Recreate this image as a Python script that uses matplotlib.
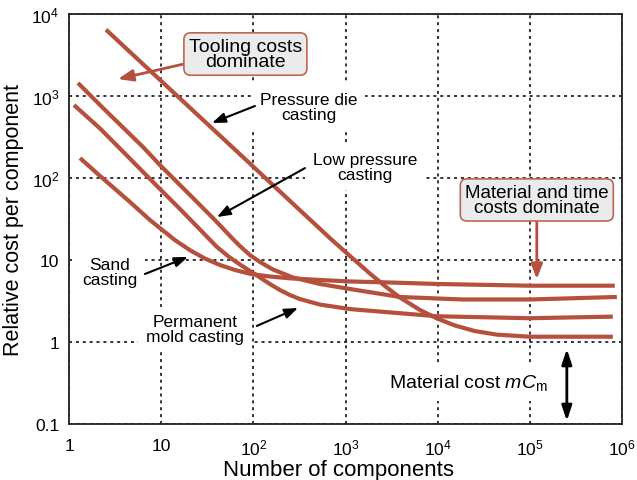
import matplotlib
matplotlib.use("Agg")
import matplotlib.pyplot as plt

plt.rcParams["font.family"] = ["Liberation Sans", "DejaVu Sans"]
plt.rcParams["mathtext.fontset"] = "custom"
plt.rcParams["mathtext.rm"] = "Liberation Sans"
plt.rcParams["mathtext.it"] = "Liberation Sans:italic"

# relative cost per component vs number of components
die_n = [2.52, 5.89, 16.0, 36.5, 91.9, 249, 677, 1116, 1839, 2675, 3890, 6412,
         9800, 1.54e4, 2.53e4, 4.38e4, 1e5, 7.95e5]
die_c = [6440, 2650, 933, 394, 150, 52.7, 18.5, 11.2, 6.84, 4.82, 3.49, 2.46,
         1.94, 1.59, 1.36, 1.23, 1.16, 1.16]

low_n = [1.25, 2.46, 6.35, 9.7, 22.1, 38.3, 60.1, 71.6, 91.8, 118, 163, 269,
         527, 1116, 3893, 1.87e4, 1e5, 8.79e5]
low_c = [1442, 675, 239, 144, 57.1, 30.7, 18.0, 14.8, 11.5, 9.46, 7.66, 6.12,
         5.10, 4.43, 3.54, 3.30, 3.30, 3.54]

perm_n = [1.133, 2.17, 4.59, 9.0, 16.0, 26.4, 40.3, 55.7, 71.6, 91.9, 118, 151,
          194, 249, 320, 528, 1116, 9800, 1e5, 7.95e5]
perm_c = [776, 402, 172, 79.9, 41.9, 23.5, 14.4, 10.7, 8.81, 7.35, 6.12, 5.10,
          4.31, 3.74, 3.34, 2.86, 2.52, 2.06, 1.95, 2.04]

sand_n = [1.316, 2.17, 4.59, 7.56, 9.7, 14.1, 20.5, 29.9, 43.4, 63.2, 94.2, 151,
          249, 527, 1116, 2546, 9800, 1e5, 8.35e5]
sand_c = [175, 106, 50.9, 30.7, 24.5, 17.5, 13.2, 10.4, 8.69, 7.55, 6.75, 6.29,
          5.98, 5.71, 5.47, 5.35, 5.10, 4.86, 4.86]

x_ticks = [1, 10, 1e2, 1e3, 1e4, 1e5, 1e6]
x_tick_labels = ["1", "10", r"$10^2$", r"$10^3$", r"$10^4$", r"$10^5$", r"$10^6$"]
y_ticks = [0.1, 1, 10, 1e2, 1e3, 1e4]
y_tick_labels = ["0.1", "1", "10", r"$10^2$", r"$10^3$", r"$10^4$"]

red = "#b5503c"

fig = plt.figure(figsize=(6.37, 4.81), dpi=100)
ax = fig.add_axes([69 / 637, 56 / 481, 553 / 637, 410 / 481])
ax.set_xscale("log")
ax.set_yscale("log")
ax.set_xlim(1, 1e6)
ax.set_ylim(0.1, 1e4)

for n, c in [(die_n, die_c), (low_n, low_c), (perm_n, perm_c), (sand_n, sand_c)]:
    ax.plot(n, c, color=red, lw=3, solid_capstyle="butt", solid_joinstyle="round", zorder=3)

ax.set_xticks(x_ticks)
ax.set_xticklabels(x_tick_labels)
ax.set_yticks(y_ticks)
ax.set_yticklabels(y_tick_labels)
ax.minorticks_off()
ax.tick_params(length=0, labelsize=12.5)
ax.tick_params(axis="x", pad=10)
ax.tick_params(axis="y", pad=7)
ax.grid(True, color="black", lw=1.1, ls=(0, (2, 2.5)))
ax.set_axisbelow(True)
for s in ax.spines.values():
    s.set_linewidth(1.3)
    s.set_color("#222222")

ax.set_xlabel("Number of components", fontsize=16, labelpad=1)
ax.xaxis.set_label_coords(0.487, -0.085)
ax.set_ylabel("Relative cost per component", fontsize=15.5, labelpad=5)

# plain labels with white backing so the grid is broken behind them
wbox = dict(boxstyle="square,pad=0.45", fc="white", ec="none")
labels = [
    ("Pressure die\ncasting", 401, 735, 12.5),
    ("Low pressure\ncasting", 1623, 136, 12.5),
    ("Sand\ncasting", 2.78, 7.14, 12.5),
    ("Permanent\nmold casting", 23.3, 1.44, 12.5),
    (r"Material cost $mC_\mathrm{m}$", 2.18e4, 0.325, 14),
]
for txt, x, y, fs in labels:
    ax.text(x, y, txt, ha="center", va="center", fontsize=fs, linespacing=0.95,
            bbox=wbox, zorder=2)

gbox = dict(boxstyle="round,pad=0.25,rounding_size=0.35", fc="#ebebeb", ec="#c0654f", lw=1.2)
ax.text(82, 3250, "Tooling costs\ndominate", ha="center", va="center", fontsize=14,
        linespacing=0.9, bbox=gbox, zorder=4)
ax.text(1.19e5, 54, "Material and time\ncosts dominate", ha="center", va="center",
        fontsize=13.5, linespacing=0.9, bbox=gbox, zorder=4)

# black pointer arrows
black_arrows = [
    ((35.6, 469), (104, 755)),
    ((40.3, 33.4), (363, 132)),
    ((19.5, 10.9), (6.67, 6.75)),
    ((305, 2.6), (109, 1.57)),
]
for tip, tail in black_arrows:
    ax.annotate("", xy=tip, xytext=tail, zorder=5,
                arrowprops=dict(arrowstyle="-|>,head_length=0.8,head_width=0.3",
                                color="black", lw=1.5, shrinkA=0, shrinkB=0))

# red arrows from the boxes
ax.annotate("", xy=(3.4, 1610), xytext=(22, 2600), zorder=3.5,
            arrowprops=dict(arrowstyle="-|>,head_length=0.9,head_width=0.35",
                            color=red, lw=2, shrinkA=0, shrinkB=0))
ax.annotate("", xy=(1.19e5, 5.86), xytext=(1.19e5, 30), zorder=3.5,
            arrowprops=dict(arrowstyle="-|>,head_length=0.9,head_width=0.35",
                            color=red, lw=2, shrinkA=0, shrinkB=0))

# material cost double arrow
ax.annotate("", xy=(2.52e5, 0.109), xytext=(2.52e5, 0.82), zorder=5,
            arrowprops=dict(arrowstyle="<|-|>,head_length=0.9,head_width=0.3",
                            color="black", lw=2, shrinkA=0, shrinkB=0))

fig.savefig("out.png", dpi=100)
